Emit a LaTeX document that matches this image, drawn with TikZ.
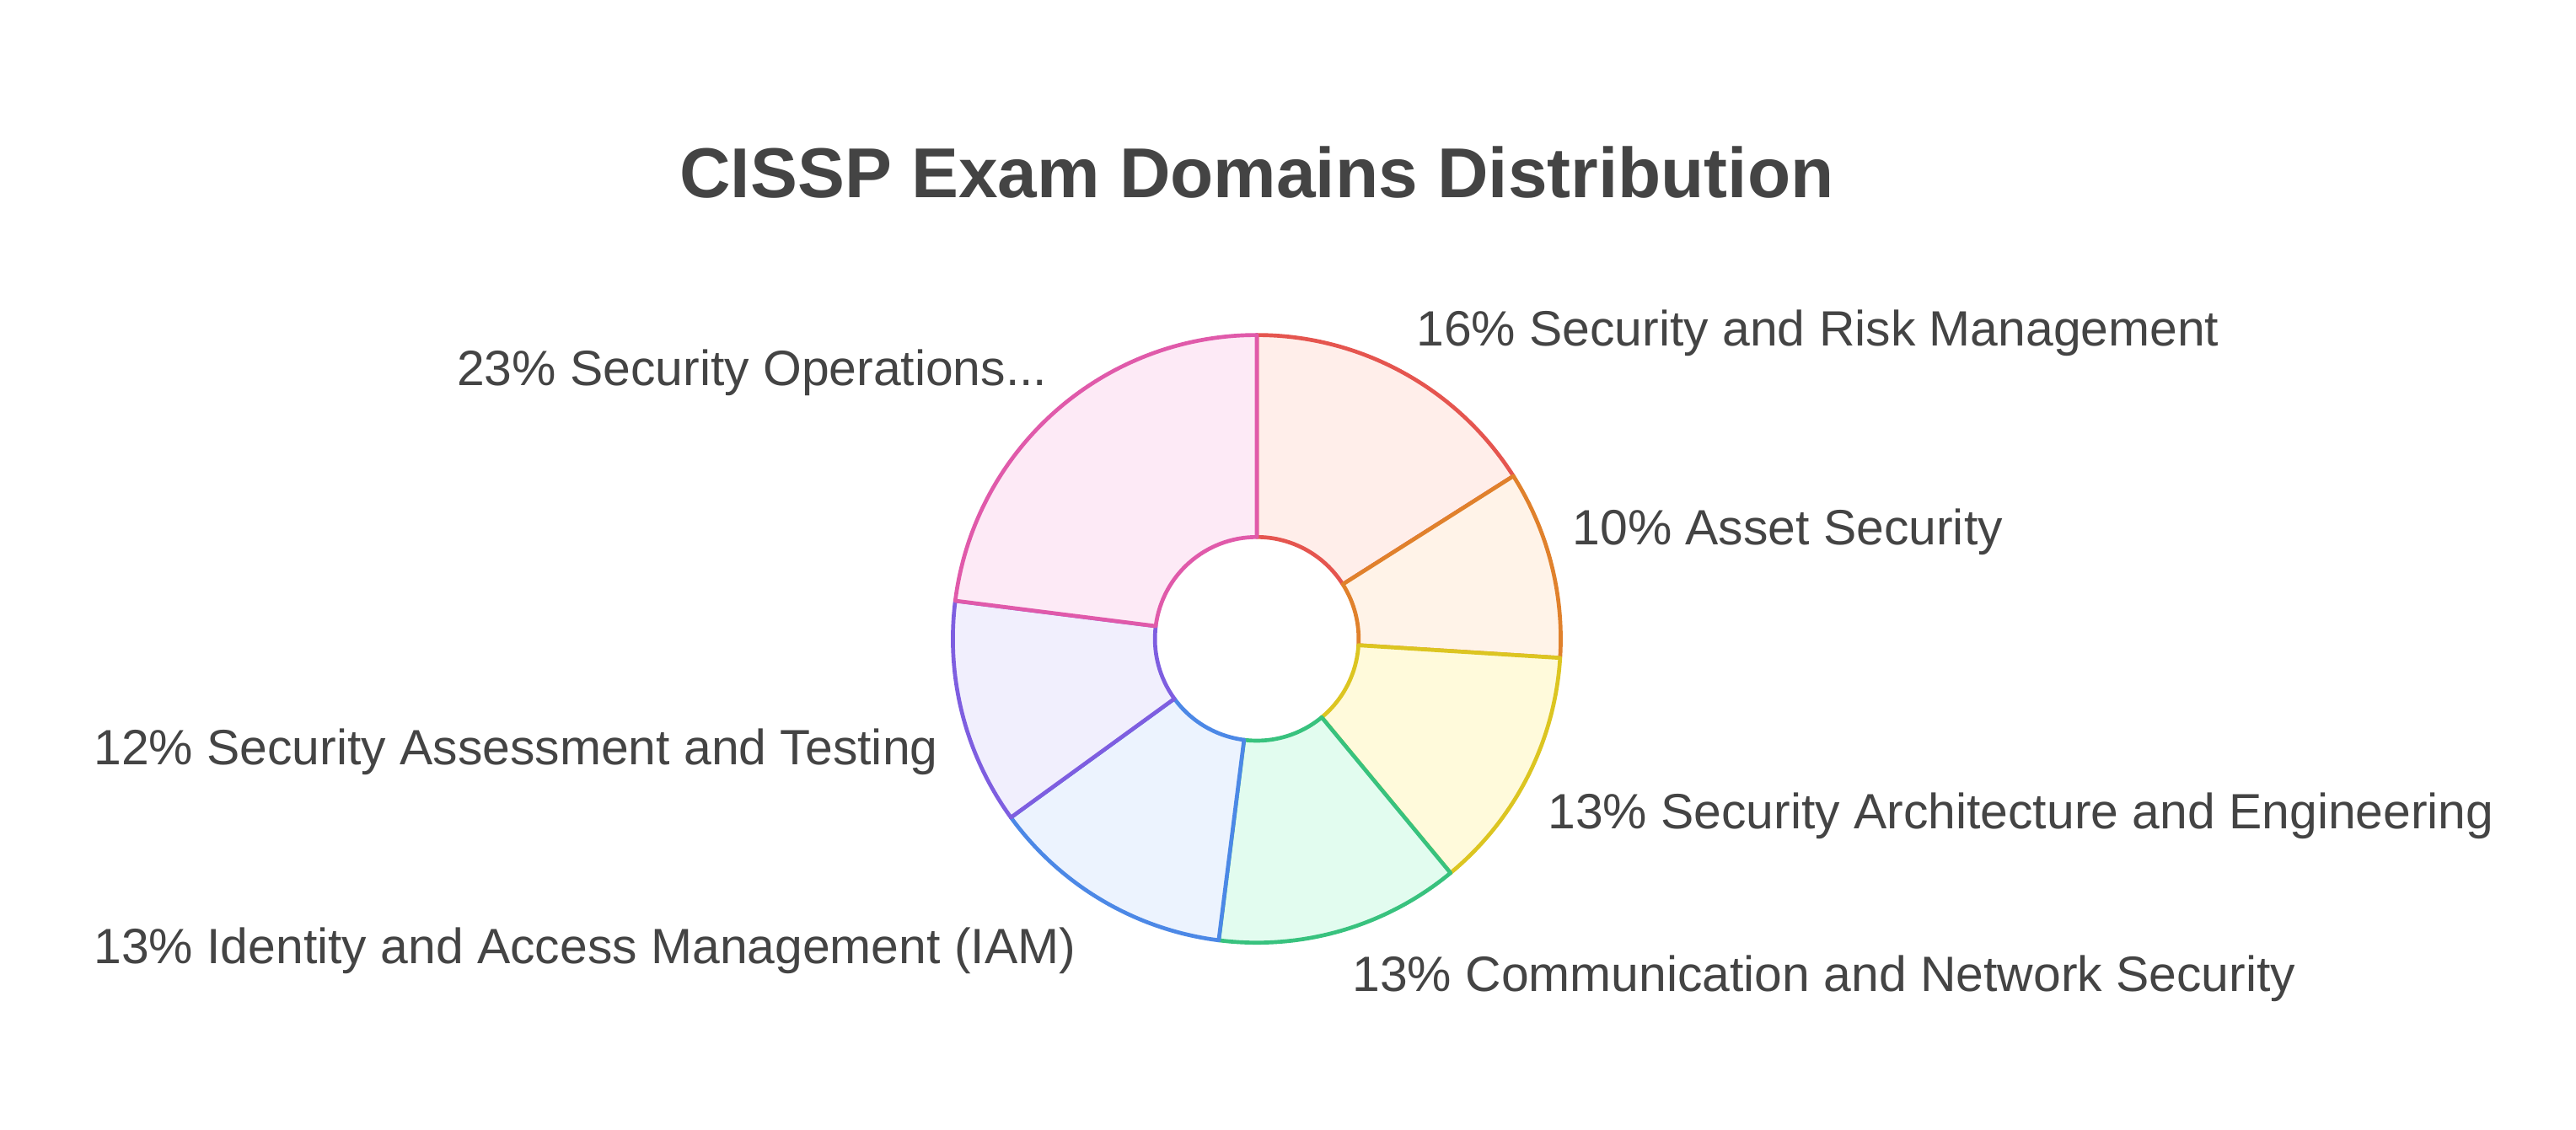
\documentclass[tikz,border=0pt]{standalone}
\usepackage{fontspec}
\setmainfont{Liberation Sans}
\usetikzlibrary{calc}
\definecolor{txt}{HTML}{444444}
\definecolor{s1}{HTML}{E5554F}\definecolor{f1}{HTML}{FFEEEA}
\definecolor{s2}{HTML}{E0812C}\definecolor{f2}{HTML}{FFF3E8}
\definecolor{s3}{HTML}{DCC521}\definecolor{f3}{HTML}{FFFADB}
\definecolor{s4}{HTML}{38C27E}\definecolor{f4}{HTML}{E2FCEF}
\definecolor{s5}{HTML}{4C88E6}\definecolor{f5}{HTML}{ECF3FE}
\definecolor{s6}{HTML}{7E5EE0}\definecolor{f6}{HTML}{F1EFFD}
\definecolor{s7}{HTML}{E05AAA}\definecolor{f7}{HTML}{FDEAF6}
\newcommand\donutsector[4]{%
  \filldraw[seg,draw=#3,fill=#4] ($(765,299)+(#1:185)$) arc[start angle=#1,end angle=#2,radius=185]
   -- ($(765,299)+(#2:62)$) arc[start angle=#2,end angle=#1,radius=62] -- cycle;}
\begin{document}
\begin{tikzpicture}[x=1pt,y=1pt,
  lbl/.style={anchor=west,inner sep=0pt,text=txt,font=\fontsize{30.2}{36}\selectfont},
  seg/.style={line width=2.4pt,line join=round}]
\useasboundingbox[fill=white] (0,0) rectangle (1568,688);
\donutsector{90}{32.4}{s1}{f1}
\donutsector{32.4}{-3.6}{s2}{f2}
\donutsector{-3.6}{-50.4}{s3}{f3}
\donutsector{-50.4}{-97.2}{s4}{f4}
\donutsector{-97.2}{-144}{s5}{f5}
\donutsector{-144}{-187.2}{s6}{f6}
\donutsector{-187.2}{-270}{s7}{f7}
\node[anchor=center,text=txt,font=\fontsize{43}{50}\selectfont\bfseries] (title) at (765,583) {CISSP Exam Domains Distribution};
\node[lbl] (l1) at (862,485) {16\% Security and Risk Management};
\node[lbl] (l2) at (957,364) {10\% Asset Security};
\node[lbl] (l3) at (942,191) {13\% Security Architecture and Engineering};
\node[lbl] (l4) at (823,92) {13\% Communication and Network Security};
\node[lbl] (l5) at (57,109) {13\% Identity and Access Management (IAM)};
\node[lbl] (l6) at (57,230) {12\% Security Assessment and Testing};
\node[lbl] (l7) at (278,461) {23\% Security Operations...};
\end{tikzpicture}
\end{document}
